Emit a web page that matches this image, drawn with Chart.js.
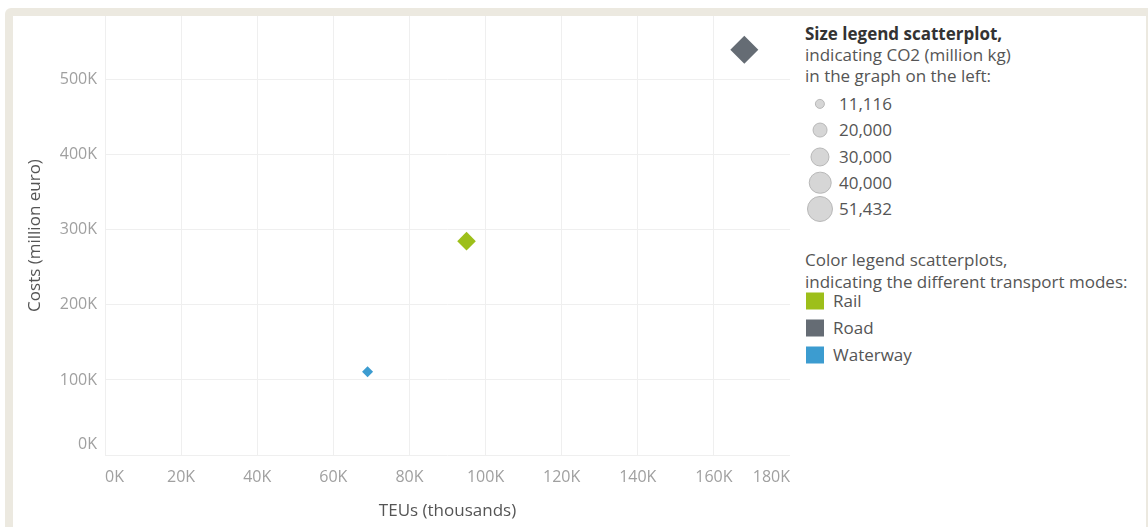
<!DOCTYPE html>
<html>
<head>
<meta charset="utf-8">
<script src="https://cdn.jsdelivr.net/npm/chart.js@4.4.1/dist/chart.umd.min.js"></script>
<style>
  html, body { margin: 0; padding: 0; background: #ffffff; width: 1148px; height: 527px; overflow: hidden; font-family: "Open Sans", sans-serif; }
  #frame { position: absolute; left: 5px; top: 8px; width: 1143px; height: 519px; background: #ECE9E0; border-top-left-radius: 6px; }
  #panel { position: absolute; left: 13px; top: 16px; width: 1133px; height: 511px; background: #ffffff; }
  #chartBox { position: absolute; left: 13px; top: 16px; width: 777px; height: 511px; }
  #legend { position: absolute; left: 805px; top: 0px; width: 343px; height: 527px; color: #555; font-size: 17px; }
  .ln { position: absolute; left: 0; white-space: nowrap; line-height: 22px; transform: translateY(-50%); }
  .b { font-weight: bold; color: #333; }
  .circ { position: absolute; border-radius: 50%; background: #d6d6d6; border: 1.5px solid #b8b8b8; box-sizing: border-box; transform: translate(-50%, -50%); }
  .sw { position: absolute; left: 1px; width: 18px; height: 17px; transform: translateY(-50%); }
</style>
</head>
<body>
<div id="frame"></div>
<div id="panel"></div>
<div id="chartBox"><canvas id="c" width="777" height="511"></canvas></div>
<div id="legend"></div>
<script>
// ---- data ----
const modes = ['Rail', 'Road', 'Waterway'];
const teus = [95000, 168000, 69000];          // TEUs (thousands)
const costs = [285000, 540000, 111000];       // Costs (million euro)
const co2 = [25500, 51432, 11116];            // CO2 (million kg)
const modeColors = ['#9DBF1A', '#656C74', '#3C9CD0'];
const xTicks = [0, 20000, 40000, 60000, 80000, 100000, 120000, 140000, 160000, 180000];
const yTicks = [0, 100000, 200000, 300000, 400000, 500000];
const sizeLegendValues = [11116, 20000, 30000, 40000, 51432];

// size mapping (sqrt scale between min and max of CO2)
const co2Min = 11116, co2Max = 51432, rMin = 5.5, rMax = 14;
function sizeFor(v) {
  const t = (Math.sqrt(v) - Math.sqrt(co2Min)) / (Math.sqrt(co2Max) - Math.sqrt(co2Min));
  return rMin + t * (rMax - rMin);
}
const fmtK = v => Math.round(v / 1000) + 'K';

// ---- legend (HTML) ----
const lg = document.getElementById('legend');
function addLine(text, y, cls, left) {
  const d = document.createElement('div');
  d.className = 'ln' + (cls ? ' ' + cls : '');
  d.textContent = text;
  d.style.top = y + 'px';
  if (left !== undefined) d.style.left = left + 'px';
  lg.appendChild(d);
}
addLine('Size legend scatterplot,', 34, 'b');
addLine('indicating CO2 (million kg)', 55);
addLine('in  the graph on the left:', 76);
sizeLegendValues.forEach((v, i) => {
  const y = 104 + i * 26.3;
  const c = document.createElement('div');
  c.className = 'circ';
  const d = 2 * sizeFor(v) * 0.93;
  c.style.width = d + 'px'; c.style.height = d + 'px';
  c.style.left = '15px'; c.style.top = y + 'px';
  lg.appendChild(c);
  addLine(v.toLocaleString('en-US'), y, '', 34);
});
addLine('Color legend scatterplots,', 260);
addLine('indicating the different transport modes:', 282);
modes.forEach((m, i) => {
  const y = 301 + i * 27;
  const s = document.createElement('div');
  s.className = 'sw';
  s.style.top = y + 'px';
  s.style.background = modeColors[i];
  lg.appendChild(s);
  addLine(m, y, '', 28);
});

// ---- chart ----
const datasets = modes.map((m, i) => ({
  label: m,
  data: [{ x: teus[i], y: costs[i] }],
  backgroundColor: modeColors[i],
  borderColor: modeColors[i],
  borderWidth: 0,
  pointStyle: 'rectRot',
  pointRadius: sizeFor(co2[i]),
  pointHoverRadius: sizeFor(co2[i])
}));

const zeroLabelInside = {
  id: 'zeroLabelInside',
  beforeDraw(chart) {
    const items = chart.scales.y.getLabelItems();
    if (items && items.length) {
      items[0].options.textBaseline = 'bottom';
      items[0].options.translation[1] -= 3;
    }
  }
};

const tickFont = { family: '"Open Sans", sans-serif', size: 16 };
const titleFont = { family: '"Open Sans", sans-serif', size: 17 };

new Chart(document.getElementById('c'), {
  type: 'scatter',
  data: { datasets },
  plugins: [zeroLabelInside],
  options: {
    responsive: false,
    animation: false,
    events: [],
    layout: { padding: 0, autoPadding: false },
    plugins: { legend: { display: false }, tooltip: { enabled: false } },
    scales: {
      x: {
        type: 'linear', min: xTicks[0], max: xTicks[xTicks.length - 1],
        afterBuildTicks: s => { s.ticks = xTicks.map(v => ({ value: v })); },
        afterFit: s => { s.height = 72; s.paddingLeft = 0; s.paddingRight = 0; },
        grid: { color: '#EFEFEF', lineWidth: 1, drawTicks: false },
        border: { display: false },
        ticks: { align: 'inner', color: '#A0A0A0', font: tickFont, padding: 13, maxRotation: 0, autoSkip: false, callback: v => fmtK(v) },
        title: { display: true, text: 'TEUs (thousands)', color: '#555', font: titleFont, padding: { top: 0, bottom: 6 } }
      },
      y: {
        type: 'linear', min: 0, max: 585000,
        afterBuildTicks: s => { s.ticks = yTicks.map(v => ({ value: v })); },
        afterFit: s => { s.width = 92; s.paddingTop = 0; s.paddingBottom = 0; },
        grid: { color: '#EFEFEF', lineWidth: 1, drawTicks: false },
        border: { display: false },
        ticks: { color: '#A0A0A0', font: tickFont, padding: 8, callback: v => fmtK(v) },
        title: { display: true, text: 'Costs (million euro)', color: '#555', font: titleFont, padding: { top: 12, bottom: 0 } }
      }
    }
  }
});
</script>
</body>
</html>
